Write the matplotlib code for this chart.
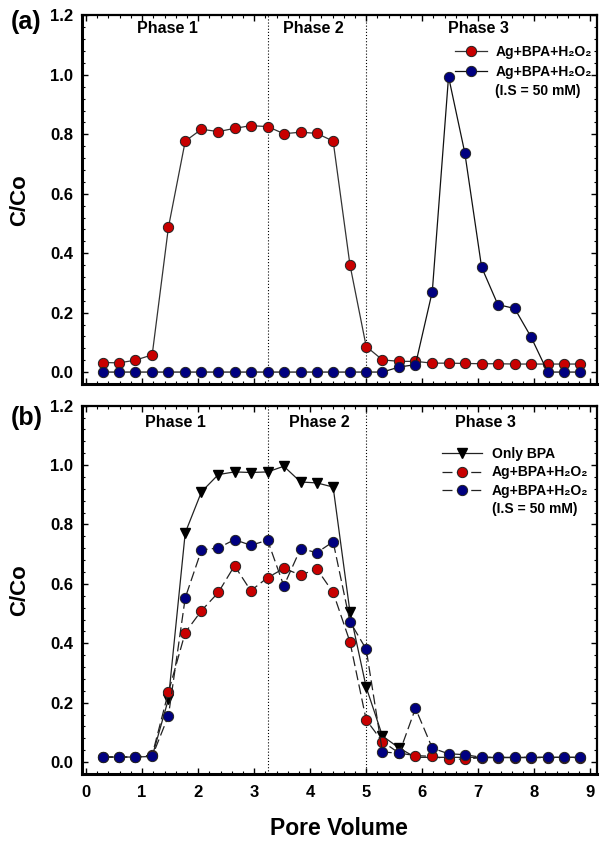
import matplotlib
matplotlib.use("Agg")
import matplotlib.pyplot as plt
from matplotlib.lines import Line2D
from matplotlib.ticker import MultipleLocator

plt.rcParams['font.family'] = ['Liberation Sans', 'DejaVu Sans']
plt.rcParams['font.weight'] = 'bold'

# ---------------- data ----------------
pore_volume = [0.30, 0.59, 0.88, 1.18, 1.47, 1.77, 2.06, 2.36, 2.65, 2.94,
               3.24, 3.53, 3.83, 4.12, 4.41, 4.71, 5.00, 5.29, 5.59, 5.88,
               6.18, 6.47, 6.76, 7.06, 7.35, 7.65, 7.94, 8.24, 8.53, 8.82]

a_ag = [0.032, 0.031, 0.040, 0.058, 0.487, 0.777, 0.817, 0.809, 0.820, 0.829,
        0.826, 0.802, 0.807, 0.803, 0.777, 0.361, 0.086, 0.041, 0.036, 0.036,
        0.030, 0.030, 0.029, 0.028, 0.028, 0.027, 0.027, 0.027, 0.027, 0.027]
a_ag_is = [0.0, 0.0, 0.0, 0.0, 0.0, 0.0, 0.0, 0.0, 0.0, 0.0,
           0.0, 0.0, 0.0, 0.0, 0.0, 0.0, 0.0, 0.0, 0.017, 0.025,
           0.271, 0.994, 0.738, 0.353, 0.227, 0.214, 0.119, 0.0, 0.0, 0.0]

b_bpa = [0.017, 0.017, 0.017, 0.019, 0.212, 0.772, 0.910, 0.968, 0.977, 0.975,
         0.977, 0.996, 0.943, 0.940, 0.926, 0.506, 0.252, 0.088, 0.047, 0.016,
         0.016, 0.016, 0.016, 0.016, 0.016, 0.016, 0.016, 0.016, 0.016, 0.016]
b_ag = [0.017, 0.017, 0.017, 0.024, 0.236, 0.436, 0.510, 0.571, 0.661, 0.577,
        0.621, 0.652, 0.630, 0.650, 0.571, 0.405, 0.142, 0.069, 0.030, 0.022,
        0.019, 0.010, 0.010, 0.015, 0.015, 0.015, 0.015, 0.015, 0.015, 0.015]
b_ag_is = [0.017, 0.017, 0.017, 0.019, 0.156, 0.553, 0.714, 0.721, 0.749, 0.730,
           0.747, 0.593, 0.719, 0.705, 0.742, 0.473, 0.380, 0.034, 0.030, 0.181,
           0.047, 0.028, 0.025, 0.016, 0.016, 0.016, 0.016, 0.016, 0.016, 0.016]

phase_bounds = [3.24, 5.0]
phase_labels = ["Phase 1", "Phase 2", "Phase 3"]
phase_x_a = [1.46, 4.06, 7.0]
phase_x_b = [1.59, 4.17, 7.12]

lbl_ag = "Ag+BPA+H\u2082O\u2082"
lbl_is = "(I.S = 50 mM)"
lbl_bpa = "Only BPA"

RED = "#C80000"
BLUE = "#000080"

fig = plt.figure(figsize=(6.0, 8.42), dpi=100)
ax1 = fig.add_axes([0.136, 0.544, 0.859, 0.4377])
ax2 = fig.add_axes([0.136, 0.0808, 0.859, 0.4374])

ms = 7.4
mk = dict(markersize=ms, markeredgecolor="#222222", markeredgewidth=0.7)

# ---- panel (a) ----
ax1.plot(pore_volume, a_ag, '-', color="#333333", lw=0.9, marker='o',
         markerfacecolor=RED, label=lbl_ag, **mk)
ax1.plot(pore_volume, a_ag_is, '-', color="#111111", lw=0.9, marker='o',
         markerfacecolor=BLUE, label=lbl_ag, **mk)

# ---- panel (b) ----
# triangles at the baseline are hidden behind the circles in the original
ax2.plot(pore_volume, b_bpa, '-', color="#222222", lw=0.9, marker='v',
         markerfacecolor='black', markeredgecolor='black', markersize=7.6,
         markevery=slice(4, 19), label=lbl_bpa)
ax2.plot(pore_volume, b_ag, color="#222222", lw=0.9, dashes=(8, 3.5),
         marker='o', markerfacecolor=RED, label=lbl_ag, **mk)
ax2.plot(pore_volume, b_ag_is, color="#222222", lw=0.9, dashes=(8, 3.5),
         marker='o', markerfacecolor=BLUE, label=lbl_ag, **mk)

for ax, px in ((ax1, phase_x_a), (ax2, phase_x_b)):
    ax.set_xlim(-0.08, 9.12)
    ax.set_ylim(-0.04, 1.2)
    for xb in phase_bounds:
        ax.axvline(xb, color='black', lw=0.8, ls=(0, (1, 1.8)), zorder=0)
    ty = 1.155 if ax is ax1 else 1.145
    for x, t in zip(px, phase_labels):
        ax.text(x, ty, t, ha='center', va='center', fontsize=11.5,
                fontweight='bold')
    ax.xaxis.set_major_locator(MultipleLocator(1))
    ax.xaxis.set_minor_locator(MultipleLocator(0.2))
    ax.yaxis.set_major_locator(MultipleLocator(0.2))
    ax.yaxis.set_minor_locator(MultipleLocator(0.04))
    ax.tick_params(which='both', direction='in', top=True, right=True)
    ax.tick_params(which='major', length=4.5, width=1.0, labelsize=12)
    ax.tick_params(which='minor', length=2.5, width=0.8)
    ax.tick_params(axis='x', pad=8)
    ax.tick_params(axis='y', pad=6)
    ax.set_yticks([0.0, 0.2, 0.4, 0.6, 0.8, 1.0, 1.2])
    ax.set_yticklabels(["0.0", "0.2", "0.4", "0.6", "0.8", "1.0", "1.2"])
    for lab in ax.get_xticklabels() + ax.get_yticklabels():
        lab.set_fontweight('bold')
    for s in ax.spines.values():
        s.set_linewidth(1.6)
    ax.spines['left'].set_linewidth(2.2)
    ax.spines['bottom'].set_linewidth(2.2)
    ax.set_ylabel("C/Co", fontsize=16, fontweight='bold', va='center')
    ax.yaxis.set_label_coords(-0.12, 0.5)

ax1.tick_params(axis='x', labelbottom=False)
ax2.set_xlabel("Pore Volume", fontsize=16.5, fontweight='bold', va='center')
ax2.xaxis.set_label_coords(0.5, -0.147)

blank = Line2D([], [], linestyle='none', marker=None)

h1, l1 = ax1.get_legend_handles_labels()
ax1.legend(h1 + [blank], l1 + [lbl_is], loc='upper left',
           bbox_to_anchor=(0.7245, 0.919), frameon=False,
           handlelength=2.3, handletextpad=0.6, labelspacing=0.38,
           borderpad=0, borderaxespad=0, numpoints=1,
           prop={'weight': 'bold', 'size': 10})

h2, l2 = ax2.get_legend_handles_labels()
ax2.legend(h2 + [blank], l2 + [lbl_is], loc='upper left',
           bbox_to_anchor=(0.6986, 0.888), frameon=False,
           handlelength=2.9, handletextpad=0.7, labelspacing=0.32,
           borderpad=0, borderaxespad=0, numpoints=1,
           prop={'weight': 'bold', 'size': 10})

fig.text(26 / 600, 1 - 21.5 / 842, "(a)", fontsize=18, fontweight='bold',
         ha='center', va='center')
fig.text(26.5 / 600, 1 - 418.5 / 842, "(b)", fontsize=18, fontweight='bold',
         ha='center', va='center')

fig.savefig("out.png", dpi=100)
